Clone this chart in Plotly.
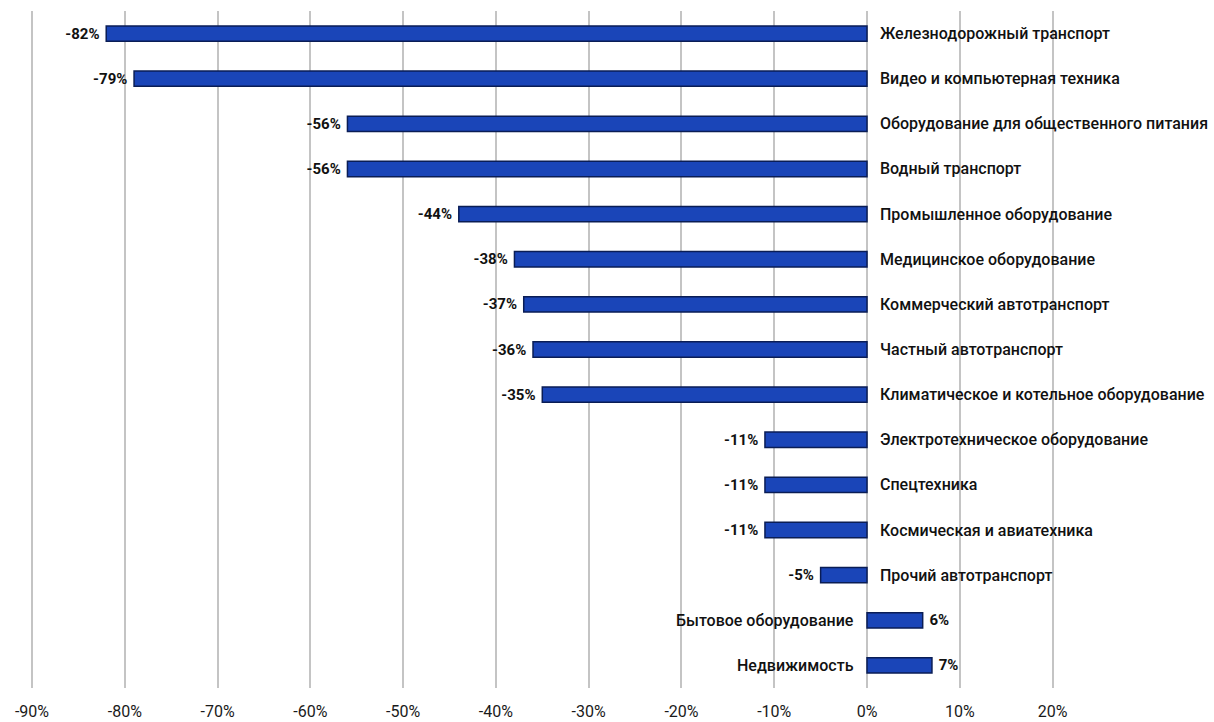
import plotly.graph_objects as go

categories = [
    "Железнодорожный транспорт",
    "Видео и компьютерная техника",
    "Оборудование для общественного питания",
    "Водный транспорт",
    "Промышленное оборудование",
    "Медицинское оборудование",
    "Коммерческий автотранспорт",
    "Частный автотранспорт",
    "Климатическое и котельное оборудование",
    "Электротехническое оборудование",
    "Спецтехника",
    "Космическая и авиатехника",
    "Прочий автотранспорт",
    "Бытовое оборудование",
    "Недвижимость",
]
values = [-82, -79, -56, -56, -44, -38, -37, -36, -35, -11, -11, -11, -5, 6, 7]
value_labels = ["-82%", "-79%", "-56%", "-56%", "-44%", "-38%", "-37%", "-36%", "-35%",
                "-11%", "-11%", "-11%", "-5%", "6%", "7%"]
tick_vals = [-90, -80, -70, -60, -50, -40, -30, -20, -10, 0, 10, 20]
tick_text = ["-90%", "-80%", "-70%", "-60%", "-50%", "-40%", "-30%", "-20%", "-10%", "0%", "10%", "20%"]

FONT = "Roboto"

# pad value labels slightly away from bar ends
padded = [(lbl + " ") if v < 0 else (" " + lbl) for lbl, v in zip(value_labels, values)]

fig = go.Figure()
fig.add_trace(go.Bar(
    x=values,
    y=categories,
    orientation="h",
    width=0.34,
    marker=dict(color="#1a45b8", line=dict(color="#0a1d55", width=1.5)),
    text=padded,
    textposition="outside",
    constraintext="none",
    textfont=dict(family=FONT, size=15, color="#111111", weight="bold"),
    cliponaxis=False,
    hoverinfo="skip",
))

annotations = []
for cat, v in zip(categories, values):
    if v < 0:
        annotations.append(dict(x=0, y=cat, xref="x", yref="y", text=cat, showarrow=False,
                                xanchor="left", xshift=11,
                                font=dict(family=FONT, size=16, color="#111111", weight=500)))
    else:
        annotations.append(dict(x=0, y=cat, xref="x", yref="y", text=cat, showarrow=False,
                                xanchor="right", xshift=-11,
                                font=dict(family=FONT, size=16, color="#111111", weight=500)))

fig.update_layout(
    width=1214,
    height=722,
    margin=dict(l=0, r=0, t=11, b=34),
    paper_bgcolor="white",
    plot_bgcolor="white",
    showlegend=False,
    annotations=annotations,
    xaxis=dict(
        range=[-93.45, 37.4],
        tickvals=tick_vals,
        ticktext=tick_text,
        showgrid=True,
        gridcolor="#c4c4c4",
        gridwidth=1.5,
        zeroline=True,
        zerolinecolor="#c4c4c4",
        zerolinewidth=1.5,
        showline=False,
        ticks="",
        ticklabelstandoff=12,
        tickfont=dict(family=FONT, size=16, color="#1a1a1a"),
        fixedrange=True,
    ),
    yaxis=dict(
        categoryorder="array",
        categoryarray=categories,
        autorange="reversed",
        showticklabels=False,
        showgrid=False,
        zeroline=False,
        showline=False,
        range=[14.5, -0.5],
    ),
)

fig.write_html(
    "out.html",
    config={"displayModeBar": False},
    post_script="document.body.style.margin='0';document.body.style.overflow='hidden';",
)
